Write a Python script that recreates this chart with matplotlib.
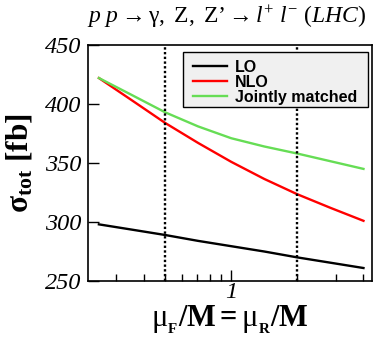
import matplotlib
matplotlib.use("Agg")
import matplotlib.pyplot as plt
from matplotlib.patches import Rectangle
import numpy as np

# Data
mu = [0.25, 0.354, 0.5, 0.707, 1.0, 1.414, 2.0, 2.83, 4.0]
lo = [298, 293.5, 289, 284, 279.5, 275, 270, 265.5, 261]
nlo = [422, 403, 384, 367, 351, 336.5, 323.5, 312, 301]
joint = [422, 407.5, 393, 381, 371, 364, 358, 351.5, 345]
series_labels = ["LO", "NLO", "Jointly matched"]
series_colors = ["black", "#ff0000", "#66dd55"]
vlines = [0.5, 2.0]
yticks = [250, 300, 350, 400, 450]
xticks = [1]
xtick_labels = ['1']

plt.rcParams['mathtext.fontset'] = 'custom'
plt.rcParams['mathtext.rm'] = 'Liberation Serif'
plt.rcParams['mathtext.it'] = 'Liberation Serif:italic'
plt.rcParams['mathtext.bf'] = 'Liberation Serif:bold'

W, H = 379, 338
L, R, T, B = 88, 372, 45, 281
fig = plt.figure(figsize=(W/100, H/100), dpi=100)
ax = fig.add_axes([L/W, 1-B/H, (R-L)/W, (B-T)/H])

def ax_x(px):
    return (px - L) / (R - L)

def ax_y(py):
    return 1 - (py - T) / (B - T)

for y, lab, c in zip([lo, nlo, joint], series_labels, series_colors):
    ax.plot(mu, y, color=c, lw=1.7, label=lab)
for v in vlines:
    ax.axvline(v, color='black', lw=1.7, ls=(0, (1, 1)))

ax.set_xscale('log')
ax.set_xlim(0.223, 4.374)
ax.set_ylim(250, 450)
tfont = {'family': 'Liberation Serif', 'style': 'italic', 'size': 17.5}
ax.set_yticks(yticks)
ax.set_yticklabels([str(t) for t in yticks], fontdict=tfont)
ax.set_xticks(xticks)
ax.set_xticklabels(xtick_labels, fontdict=tfont)
ax.set_xticks([0.3, 0.4, 0.5, 0.6, 0.7, 0.8, 0.9, 2, 3, 4], minor=True)
ax.xaxis.set_minor_formatter(matplotlib.ticker.NullFormatter())
ax.tick_params(axis='both', which='major', direction='in', length=8, width=1,
               top=False, right=False)
ax.tick_params(axis='x', which='minor', direction='in', length=5, width=1, top=False)
ax.tick_params(axis='y', which='minor', left=False)
ax.tick_params(axis='y', pad=5)
ax.tick_params(axis='x', pad=1)
for s in ax.spines.values():
    s.set_linewidth(1.2)

ax.set_ylabel(r'$\mathbf{\sigma_{tot}}$ [fb]', fontfamily='Liberation Serif',
              fontweight='bold', fontsize=22.5, labelpad=7)
ax.set_xlabel(r'$\mathrm{\mu}_{_\mathbf{F}}\mathbf{/M = }\mathrm{\mu}_{_\mathbf{R}}\mathbf{/M}$',
              fontsize=22, labelpad=0)

fig.text(226/W, 1-17/H,
         r"$p\ p \rightarrow \mathrm{\gamma,\ Z,\ Z’} \rightarrow l^{+}\ l^{-}\ (LHC)$",
         ha='center', va='center', fontsize=17)

# legend frame
ax.add_patch(Rectangle((ax_x(183), ax_y(107)), ax_x(368) - ax_x(183), ax_y(52) - ax_y(107),
                       transform=ax.transAxes, facecolor='#f0f0f0', edgecolor='black',
                       lw=1, zorder=4))
leg = ax.legend(loc='center left', bbox_to_anchor=(ax_x(193), ax_y(82.5)),
                borderaxespad=0, frameon=False, borderpad=0,
                prop={'family': 'Liberation Sans', 'weight': 'bold', 'size': 11.5},
                handlelength=2.1, handletextpad=0.5, labelspacing=0.0)
leg.set_zorder(5)

fig.savefig('out.png', dpi=100)
